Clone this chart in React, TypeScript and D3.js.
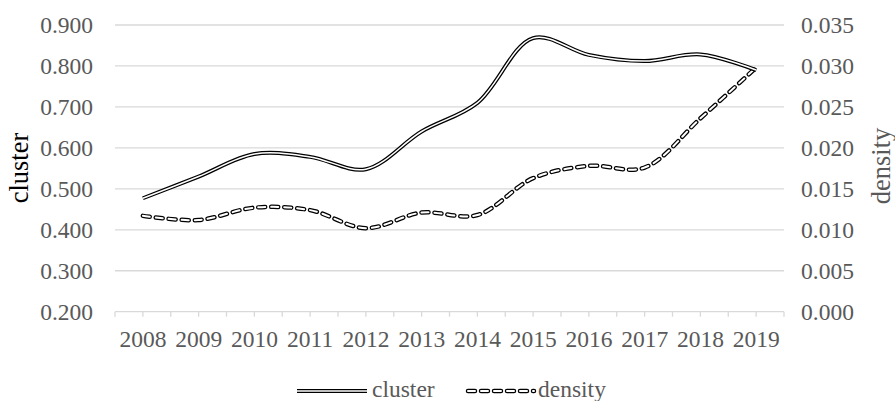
import React from "react";
import * as d3 from "d3";

const years = ["2008","2009","2010","2011","2012","2013","2014","2015","2016","2017","2018","2019"];
const cluster = [0.477, 0.530, 0.585, 0.578, 0.548, 0.640, 0.710, 0.868, 0.827, 0.812, 0.828, 0.790];
const density = [0.0117, 0.0112, 0.0127, 0.0124, 0.0102, 0.0121, 0.0118, 0.0163, 0.0178, 0.0176, 0.0236, 0.0298];
const leftTicks = [0.2, 0.3, 0.4, 0.5, 0.6, 0.7, 0.8, 0.9];
const rightTicks = [0, 0.005, 0.01, 0.015, 0.02, 0.025, 0.03, 0.035];

const W = 895, H = 401;
const L = 115, R = 784, T = 25, B = 311.7;
const FONT = "'Liberation Serif', 'Times New Roman', serif";
const GRAY = "#595959";
const FS = 23.5;
const TS = 26.5;

export default function App() {
  const x = d3.scaleBand().domain(years).range([L, R]);
  const cx = (i: number) => (x(years[i]) as number) + x.bandwidth() / 2;
  const yL = d3.scaleLinear().domain([0.2, 0.9]).range([B, T]);
  const yR = d3.scaleLinear().domain([0, 0.035]).range([B, T]);
  const curve = d3.curveCatmullRom.alpha(0.5);
  const lineC = d3.line<number>().x((_, i) => cx(i)).y(d => yL(d)).curve(curve);
  const lineD = d3.line<number>().x((_, i) => cx(i)).y(d => yR(d)).curve(curve);
  const halfTicks: number[] = [];
  for (let i = 0; i <= years.length * 2; i++) halfTicks.push(L + (i * x.bandwidth()) / 2);

  return (
    <svg width={W} height={H} style={{ position: "absolute", left: 0, top: 0, background: "#fff" }} fontFamily={FONT}>
      {leftTicks.map(t => (
        <line key={"g" + t} x1={L} x2={R} y1={yL(t)} y2={yL(t)} stroke="#d9d9d9" strokeWidth={1.3} />
      ))}
      {halfTicks.map((t, i) => (
        <line key={"xt" + i} x1={t} x2={t} y1={B} y2={B + 5} stroke="#d9d9d9" strokeWidth={1.3} />
      ))}
      {leftTicks.map(t => (
        <text key={"l" + t} x={93} y={yL(t)} dy="0.35em" textAnchor="end" fontSize={FS} fill={GRAY}>{t.toFixed(3)}</text>
      ))}
      {rightTicks.map(t => (
        <text key={"r" + t} x={801} y={yR(t)} dy="0.35em" textAnchor="start" fontSize={FS} fill={GRAY}>{t.toFixed(3)}</text>
      ))}
      {years.map((yr, i) => (
        <text key={yr} x={cx(i)} y={339} dy="0.35em" textAnchor="middle" fontSize={FS} fill={GRAY}>{yr}</text>
      ))}
      <text transform={`translate(19,168) rotate(-90)`} dy="0.35em" textAnchor="middle" fontSize={TS} fill="#000">cluster</text>
      <text transform={`translate(881,166) rotate(-90)`} dy="0.35em" textAnchor="middle" fontSize={TS} fill={GRAY}>density</text>

      <path d={lineD(density) || ""} fill="none" stroke="#000" strokeWidth={4.5} strokeDasharray="7 6" strokeLinecap="round" />
      <path d={lineD(density) || ""} fill="none" stroke="#fff" strokeWidth={2} strokeDasharray="7 6" strokeLinecap="round" />
      <path d={lineC(cluster) || ""} fill="none" stroke="#000" strokeWidth={4} />
      <path d={lineC(cluster) || ""} fill="none" stroke="#fff" strokeWidth={1.5} />

      <g>
        <line x1={297} x2={367} y1={391} y2={391} stroke="#000" strokeWidth={4} />
        <line x1={297} x2={367} y1={391} y2={391} stroke="#fff" strokeWidth={1.5} />
        <text x={372} y={389} dy="0.35em" fontSize={FS} fill={GRAY}>cluster</text>
        <line x1={468} x2={534} y1={391} y2={391} stroke="#000" strokeWidth={4.5} strokeDasharray="7 6" strokeLinecap="round" />
        <line x1={468} x2={534} y1={391} y2={391} stroke="#fff" strokeWidth={2} strokeDasharray="7 6" strokeLinecap="round" />
        <text x={538} y={389} dy="0.35em" fontSize={FS} fill={GRAY}>density</text>
      </g>
    </svg>
  );
}
